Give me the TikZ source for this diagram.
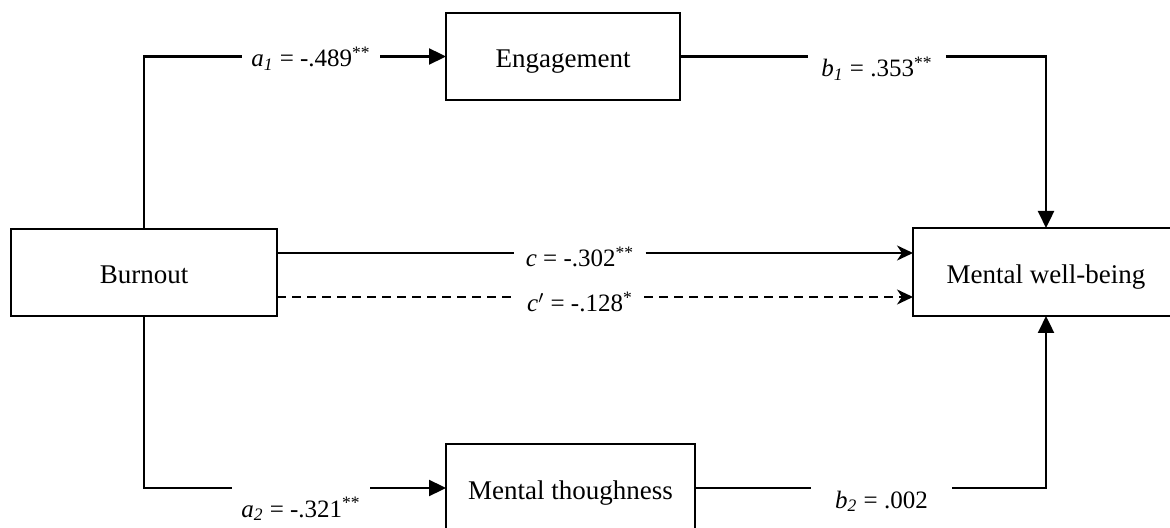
\documentclass[tikz,border=0pt]{standalone}
\usepackage{fontspec}
\setmainfont{Liberation Serif}
\usetikzlibrary{arrows.meta,positioning}

\begin{document}
\begin{tikzpicture}[x=0.5pt,y=-0.5pt]

\tikzstyle{box}=[draw,line width=0.6pt,outer sep=0pt,text height=12pt,text depth=0.5pt,font=\fontsize{13.5}{16}\selectfont]
\tikzstyle{coef}=[inner xsep=4.5pt,inner ysep=0pt,anchor=base,font=\fontsize{12.5}{15}\selectfont]
\tikzstyle{link}=[line width=1.15pt]
\tikzstyle{tri}=[link,-{Triangle[length=8.5pt,width=8pt]}]
\tikzstyle{stl}=[link,-{Stealth[length=8pt,width=7.5pt,inset=2.5pt]}]

\useasboundingbox (0,0) rectangle (1170,528);
\clip (0,0) rectangle (1170,528);

% Zmienne

\node (burnout) [box,minimum width=133pt,minimum height=43.5pt] at (144,272.5) {Burnout};
\node (engage) [box,minimum width=117pt,minimum height=43.5pt] at (563,56.5) {Engagement};
\node (wellbeing) [box,minimum width=133pt,minimum height=44pt] at (1046,272) {Mental well-being};
\node (tough) [box,minimum width=124.5pt,minimum height=44pt] at (570.5,488) {Mental thoughness};

% Wspolczynniki

\node (a1) [coef] at (311,67) {\textit{a}\textsubscript{\textit{1}} = -.489\textsuperscript{**}};
\node (b1) [coef,inner xsep=6.5pt] at (877,77) {\textit{b}\textsubscript{\textit{1}} = .353\textsuperscript{**}};
\node (c) [coef,inner xsep=5.5pt] at (580,267) {\textit{c} = -.302\textsuperscript{**}};
\node (cp) [coef,inner xsep=5.5pt] at (580,312) {\textit{c}$'$ = -.128\textsuperscript{*}};
\node (a2) [coef] at (301,517) {\textit{a}\textsubscript{\textit{2}} = -.321\textsuperscript{**}};
\node (b2) [coef,inner xsep=12pt] at (881.5,508) {\textit{b}\textsubscript{\textit{2}} = .002};

% Sciezka przez zaangazowanie

\draw [link] (burnout.north) |- (a1.west |- engage.west);
\draw [tri] (a1.east |- engage.west) -- (engage.west);
\draw [link] (engage.east) -- (b1.west |- engage.east);
\draw [tri] (b1.east |- engage.east) -| (wellbeing.north);

% Efekt bezposredni

\coordinate (cstart) at ([yshift=9.75pt]burnout.east);
\coordinate (cpstart) at ([yshift=-12.25pt]burnout.east);

\draw [link] (cstart) -- (cstart -| c.west);
\draw [stl] (cstart -| c.east) -- (cstart -| wellbeing.west);
\draw [link,dash pattern=on 4.5pt off 3pt] (cpstart) -- (cpstart -| cp.west);
\draw [stl,dash pattern=on 4.5pt off 3pt] (cpstart -| cp.east) -- (cpstart -| wellbeing.west);

% Sciezka przez odpornosc

\draw [link] (burnout.south) |- (a2.west |- tough.west);
\draw [tri] (a2.east |- tough.west) -- (tough.west);
\draw [link] (tough.east) -- (b2.west |- tough.east);
\draw [tri] (b2.east |- tough.east) -| (wellbeing.south);

\end{tikzpicture}
\end{document}
